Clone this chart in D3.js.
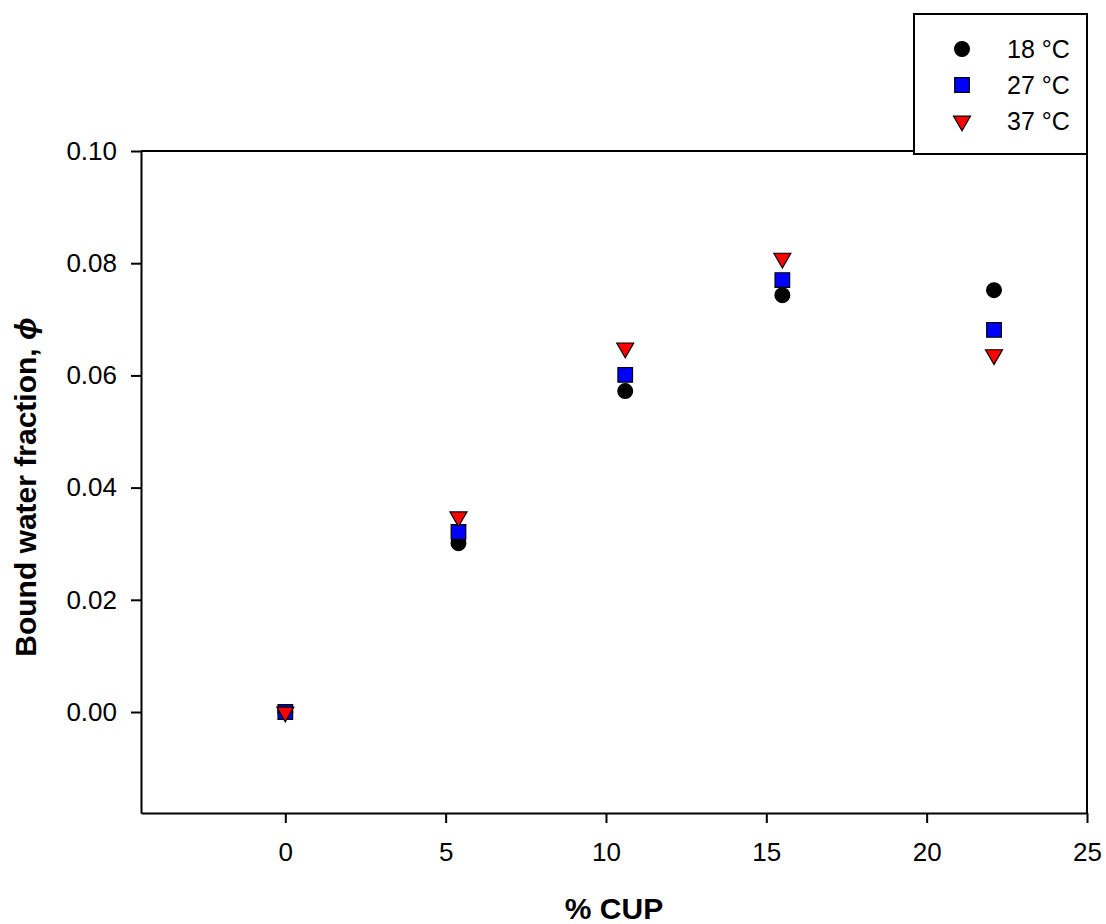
<!DOCTYPE html>
<html>
<head>
<meta charset="utf-8">
<script src="https://cdn.jsdelivr.net/npm/d3@7"></script>
<style>
  body { margin: 0; background: #fff; }
  svg { display: block; font-family: "Liberation Sans", Arial, sans-serif; }
</style>
</head>
<body>
<svg id="chart" width="1106" height="924"></svg>
<script>
// data
const cup = [0, 5.4, 10.6, 15.5, 22.1]
const phi18 = [0, 0.0301, 0.0572, 0.0743, 0.0752]
const phi27 = [0, 0.0321, 0.0601, 0.0770, 0.0681]
const phi37 = [0, 0.0348, 0.0649, 0.0809, 0.0637]
const xTicks = [0, 5, 10, 15, 20, 25]
const yTicks = [0, 0.02, 0.04, 0.06, 0.08, 0.10]
const seriesNames = ['18 °C', '27 °C', '37 °C']

const svg = d3.select('#chart')
const plotL = 141, plotR = 1087, plotT = 151, plotB = 813

const x = d3.scaleLinear().domain([-4.5, 25]).range([plotL, plotR])
const y = d3.scaleLinear().domain([-0.018, 0.10]).range([plotB, plotT])

// axes
const xAxis = svg.append('g')
  .attr('transform', `translate(0,${plotB})`)
  .call(d3.axisBottom(x).tickValues(xTicks).tickSize(10).tickPadding(20).tickSizeOuter(0))
const yAxis = svg.append('g')
  .attr('transform', `translate(${plotL},0)`)
  .call(d3.axisLeft(y).tickValues(yTicks).tickFormat(d3.format('.2f')).tickSize(10).tickPadding(14).tickSizeOuter(0))

;[xAxis, yAxis].forEach(g => {
  g.selectAll('path, line').attr('stroke', '#000').attr('stroke-width', 2)
  g.selectAll('text').attr('fill', '#000').style('font-size', '26px')
})

// top and right frame lines
svg.append('line').attr('x1', plotL).attr('x2', plotR).attr('y1', plotT).attr('y2', plotT)
  .attr('stroke', '#000').attr('stroke-width', 2)
svg.append('line').attr('x1', plotR).attr('x2', plotR).attr('y1', plotT).attr('y2', plotB)
  .attr('stroke', '#000').attr('stroke-width', 2)

// axis titles
svg.append('text')
  .attr('x', (plotL + plotR) / 2)
  .attr('y', 919)
  .attr('text-anchor', 'middle')
  .style('font-size', '30px')
  .style('font-weight', 'bold')
  .text('% CUP')

const yTitle = svg.append('text')
  .attr('transform', `translate(36,${(plotT + plotB) / 2 + 5}) rotate(-90)`)
  .attr('text-anchor', 'middle')
  .style('font-size', '30px')
  .style('font-weight', 'bold')
yTitle.append('tspan').text('Bound water fraction, ')
yTitle.append('tspan').style('font-style', 'italic').text('ϕ')

// markers
const circlePath = d3.symbol().type(d3.symbolCircle).size(Math.PI * 7.4 * 7.4)
const squarePath = d3.symbol().type(d3.symbolSquare).size(14.6 * 14.6)
const triPath = d3.symbol().type(d3.symbolTriangle).size(125)

const series = [
  { name: seriesNames[0], values: phi18, path: circlePath, fill: '#000', rot: 0 },
  { name: seriesNames[1], values: phi27, path: squarePath, fill: '#0000ff', rot: 0 },
  { name: seriesNames[2], values: phi37, path: triPath, fill: '#ff0000', rot: 180 }
]

// red triangles drawn last so they sit on top
series.forEach(s => {
  svg.append('g').selectAll('path')
    .data(s.values)
    .join('path')
    .attr('d', s.path())
    .attr('transform', (d, i) => `translate(${x(cup[i])},${y(d)}) rotate(${s.rot})`)
    .attr('fill', s.fill)
    .attr('stroke', '#000')
    .attr('stroke-width', 1.2)
})

// legend
const legend = svg.append('g')
legend.append('rect')
  .attr('x', 914).attr('y', 14).attr('width', plotR - 914).attr('height', 140)
  .attr('fill', '#fff').attr('stroke', '#000').attr('stroke-width', 2)

series.forEach((s, i) => {
  const ry = 49 + i * 36
  legend.append('path')
    .attr('d', s.path())
    .attr('transform', `translate(962,${ry}) rotate(${s.rot})`)
    .attr('fill', s.fill)
    .attr('stroke', '#000')
    .attr('stroke-width', 1.2)
  legend.append('text')
    .attr('x', 1007).attr('y', ry).attr('dy', '0.36em')
    .style('font-size', '25px')
    .text(s.name)
})
</script>
</body>
</html>
